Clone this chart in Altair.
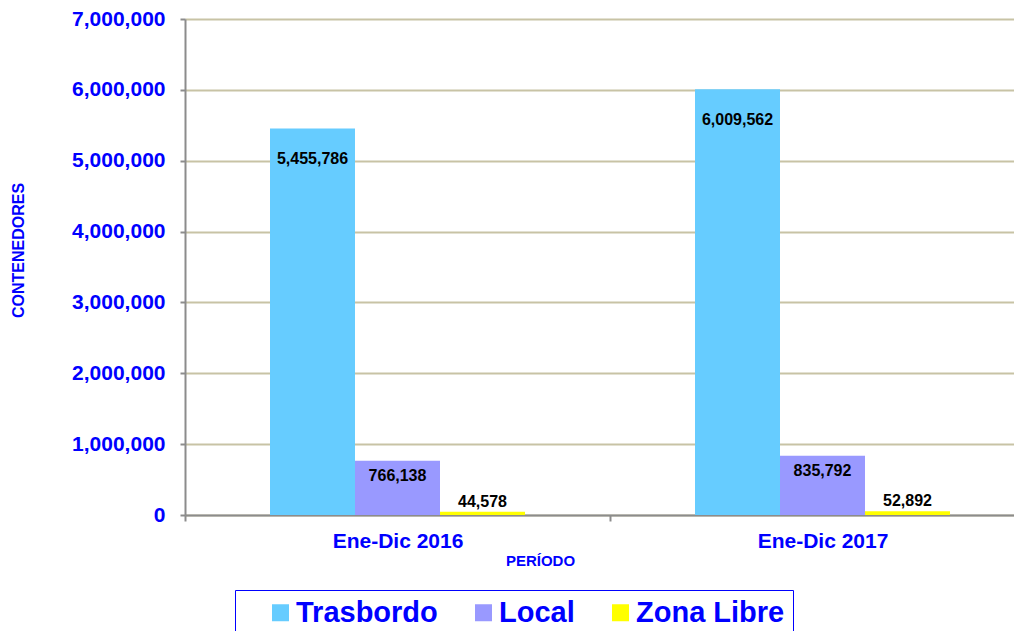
import altair as alt
import pandas as pd

periods = ["Ene-Dic 2016", "Ene-Dic 2017"]
series = ["Trasbordo", "Local", "Zona Libre"]
trasbordo = [5455786, 6009562]
local = [766138, 835792]
zona_libre = [44578, 52892]
colors = ["#66CCFF", "#9999FF", "#FFFF00"]
y_ticks = [0, 1000000, 2000000, 3000000, 4000000, 5000000, 6000000, 7000000]

rows = []
for name, vals in zip(series, [trasbordo, local, zona_libre]):
    for p, v in zip(periods, vals):
        rows.append({"periodo": p, "serie": name, "valor": v})
df = pd.DataFrame(rows)

FONT = "Liberation Sans"
BLUE = "#0000FF"
GREY = "#8C8C8C"

x_enc = alt.X(
    "periodo:N",
    sort=periods,
    scale=alt.Scale(paddingInner=0, paddingOuter=0),
    axis=alt.Axis(
        title="PERÍODO",
        ticks=True,
        tickBand="extent",
        tickSize=6,
        tickColor=GREY,
        tickWidth=2,
        labelAngle=0,
        labelFont=FONT,
        labelFontWeight="bold",
        labelFontSize=21,
        labelColor=BLUE,
        labelPadding=9,
        titleFont=FONT,
        titleFontWeight="bold",
        titleFontSize=15,
        titleColor=BLUE,
        titleX=355,
        titleY=50,
        titleBaseline="alphabetic",
        domainColor=GREY,
        domainWidth=2,
        grid=False,
    ),
)
xoff_enc = alt.XOffset(
    "serie:N", sort=series, scale=alt.Scale(paddingInner=0, paddingOuter=1)
)
y_enc = alt.Y(
    "valor:Q",
    scale=alt.Scale(domain=[0, 7000000], nice=False),
    axis=alt.Axis(
        title="CONTENEDORES",
        values=y_ticks,
        format=",d",
        labelFont=FONT,
        labelFontWeight="bold",
        labelFontSize=21,
        labelColor=BLUE,
        labelPadding=15,
        tickSize=5,
        tickColor=GREY,
        tickWidth=2,
        domainColor=GREY,
        domainWidth=2,
        gridColor="#C8C3A5",
        gridWidth=2,
        titleFont=FONT,
        titleFontWeight="bold",
        titleFontSize=16,
        titleColor=BLUE,
        titleX=-162,
        titleY=231,
        titleBaseline="alphabetic",
    ),
)

base = alt.Chart(df).encode(x=x_enc, xOffset=xoff_enc, y=y_enc)

bars = base.mark_bar().encode(
    color=alt.Color(
        "serie:N",
        sort=series,
        scale=alt.Scale(domain=series, range=colors),
        legend=alt.Legend(
            title=None,
            orient="none",
            direction="horizontal",
            legendX=50,
            legendY=571,
            padding=8,
            strokeColor=BLUE,
            symbolType="square",
            symbolSize=289,
            symbolStrokeWidth=0,
            symbolOffset=23,
            labelFont=FONT,
            labelFontWeight="bold",
            labelFontSize=29,
            labelColor=BLUE,
            labelOffset=1,
            columnPadding=8,
        ),
    )
)

def labels(name, dy):
    return (
        base.transform_filter(alt.datum.serie == name)
        .mark_text(
            font=FONT, fontWeight="bold", fontSize=16, color="#000000",
            baseline="middle", align="center", dy=dy,
        )
        .encode(text=alt.Text("valor:Q", format=","))
    )

chart = (
    alt.layer(bars, labels("Trasbordo", 31), labels("Local", 15), labels("Zona Libre", -10))
    .properties(width=850, height=496,
                padding={"left": 2, "top": 0, "right": -22, "bottom": -6})
    .configure_view(stroke=None)
    .configure_legend(strokeWidth=2)
    .configure(background="white")
)

chart.save("out.html", embed_options={"renderer": "svg", "actions": False})
